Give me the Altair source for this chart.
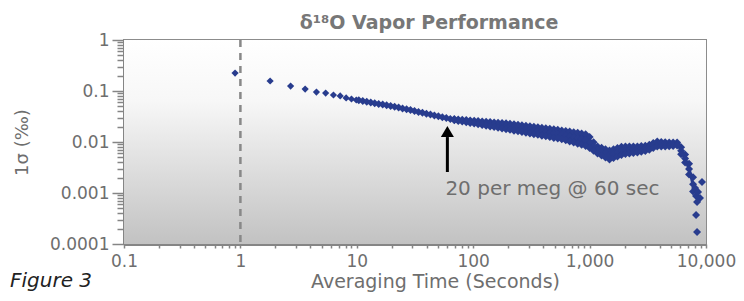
import altair as alt
import pandas as pd

# ---- data ----
tau_early = [0.9, 1.8, 2.7, 3.6, 4.5, 5.4, 6.3, 7.2, 8.1, 9.0, 9.9]
sig_early = [0.225, 0.157, 0.125, 0.109, 0.0955, 0.091, 0.0835, 0.080, 0.073, 0.0697, 0.0666]

tau_thin = [10.4, 11.25, 12.18, 13.17, 14.25, 15.42, 16.68, 18.05, 19.53, 21.13, 22.86, 24.73,
            26.76, 28.94, 31.31, 33.88, 36.65, 39.65, 42.9, 46.42, 50.22, 54.33, 58.77, 63.59]
sig_thin = [0.0657, 0.0637, 0.0617, 0.0598, 0.0576, 0.0559, 0.0541, 0.0524, 0.0506, 0.0490, 0.0475, 0.0456,
            0.0438, 0.0422, 0.0405, 0.0389, 0.0374, 0.0359, 0.0346, 0.0332, 0.0319, 0.0306, 0.0296, 0.0284]

tau_wide = [68.8, 74.43, 80.53, 87.13, 94.27, 102.0, 110.3, 119.4, 129.1, 139.7, 151.2, 163.6,
            177.0, 191.5, 207.2, 224.1, 242.5, 262.4, 283.8, 307.1, 332.2, 359.5, 388.9, 420.8,
            455.2, 492.5, 532.8, 576.5, 623.7, 674.8, 730.0, 789.8, 854.5, 924.5, 1000, 1082,
            1171, 1267, 1370, 1482, 1604, 1735, 1877, 2031, 2197, 2377, 2572, 2782,
            3010, 3257, 3523, 3812, 4124, 4462, 4827, 5222, 5650, 6113, 6613, 7155, 7741]
sig_top = [0.0281, 0.0277, 0.0274, 0.0269, 0.0265, 0.0262, 0.0258, 0.0253, 0.0250, 0.0247, 0.0242, 0.0239,
           0.0236, 0.0233, 0.0227, 0.0222, 0.0217, 0.0213, 0.0208, 0.0203, 0.0199, 0.0194, 0.0190, 0.0186,
           0.0182, 0.0177, 0.0173, 0.0169, 0.0164, 0.0160, 0.0155, 0.0151, 0.0147, 0.0142, 0.0125, 0.00991,
           0.00816, 0.00770, 0.00723, 0.00681, 0.00719, 0.00763, 0.00805, 0.00816, 0.00816, 0.00816, 0.00816, 0.00831,
           0.00846, 0.00885, 0.00952, 0.0102, 0.0100, 0.00986, 0.00978, 0.00978, 0.00978, 0.00787, 0.00569, 0.00375, 0.00204]
sig_mid = [0.0274, 0.0268, 0.0262, 0.0256, 0.0251, 0.0245, 0.0240, 0.0234, 0.0229, 0.0223, 0.0218, 0.0213,
           0.0208, 0.0204, 0.0198, 0.0193, 0.0188, 0.0183, 0.0177, 0.0173, 0.0168, 0.0164, 0.0159, 0.0155,
           0.0151, 0.0146, 0.0142, 0.0138, 0.0133, 0.0128, 0.0123, 0.0118, 0.0114, 0.0109, 0.00978, 0.00816,
           0.00697, 0.00647, 0.00599, 0.00556, 0.00591, 0.00631, 0.00671, 0.00688, 0.00695, 0.00705, 0.00713, 0.00732,
           0.00752, 0.00791, 0.00850, 0.00914, 0.00905, 0.00897, 0.00897, 0.00905, 0.00914, 0.00672, 0.00475, 0.00294, 0.00148]
sig_bot = [0.0268, 0.0259, 0.0251, 0.0245, 0.0237, 0.0230, 0.0222, 0.0215, 0.0209, 0.0202, 0.0196, 0.0190,
           0.0184, 0.0178, 0.0173, 0.0167, 0.0162, 0.0157, 0.0151, 0.0147, 0.0142, 0.0138, 0.0133, 0.0129,
           0.0125, 0.0120, 0.0117, 0.0113, 0.0108, 0.0102, 0.00973, 0.00926, 0.00881, 0.00839, 0.00766, 0.00672,
           0.00595, 0.00544, 0.00497, 0.00454, 0.00486, 0.00522, 0.00559, 0.00579, 0.00592, 0.00608, 0.00622, 0.00645,
           0.00669, 0.00706, 0.00759, 0.00816, 0.00816, 0.00816, 0.00824, 0.00839, 0.00854, 0.00574, 0.00396, 0.00231, 0.00107]

tau_tail = [8054, 8214, 8375, 8543, 8884, 9243, 8214, 8375]
sig_tail = [0.00125, 0.000873, 0.000666, 0.00105, 0.000798, 0.00164, 0.000370, 0.000172]

vline_tau = [1]
arrow_tau = [60]
arrow_from = [0.00258]
arrow_to = [0.0125]
note_text = ["20 per meg @ 60 sec"]
note_sigma = [0.0012]

x_decades = [0.1, 1, 10, 100, 1000, 10000]
y_decades = [0.0001, 0.001, 0.01, 0.1, 1]
x_ticks = [float(f"{m}e{e}") for e in range(-1, 4) for m in range(1, 10)] + [10000.0]
y_ticks = [float(f"{m}e{e}") for e in range(-4, 0) for m in range(1, 10)] + [1.0]

# ---- tables ----
early = pd.DataFrame({"tau": tau_early, "sigma": sig_early})
pts = pd.DataFrame({
    "tau": tau_thin + tau_wide * 3 + tau_tail,
    "sigma": sig_thin + sig_top + sig_mid + sig_bot + sig_tail,
})
band = pd.DataFrame({"tau": tau_wide, "sigma": sig_top, "sigma2": sig_bot})
vline = pd.DataFrame({"tau": vline_tau})
arrow = pd.DataFrame({"tau": arrow_tau, "sigma": arrow_from, "sigma2": arrow_to})
head = pd.DataFrame({"tau": arrow_tau, "sigma": arrow_to})
note = pd.DataFrame({"tau": arrow_tau, "sigma": note_sigma, "text": note_text})
fig = pd.DataFrame({"text": ["Figure 3"]})
bg = pd.DataFrame({"k": [0]})

FONT = "DejaVu Sans"
GRAY = "#6e6e6e"
AX = "#858585"
BLUE = "#283c8e"
W, H = 582, 204

xdec = "[" + ",".join(str(v) for v in x_decades) + "]"
ydec = "[" + ",".join(str(v) for v in y_decades) + "]"

x_scale = alt.Scale(type="log", domain=[0.1, 10000], nice=False)
y_scale = alt.Scale(type="log", domain=[0.0001, 1], nice=False)

x_axis = alt.Axis(
    values=x_ticks, format=",~g",
    labelExpr=f"indexof({xdec}, datum.value) >= 0 ? datum.label : ''",
    labelOverlap=False, labelFlush=False,
    title="Averaging Time (Seconds)", titleX=311, titlePadding=3,
    titleFont=FONT, titleFontSize=19, titleFontWeight="normal", titleColor=GRAY,
    labelFont=FONT, labelFontSize=17, labelColor=GRAY, labelPadding=5,
    tickSize=4, tickColor=AX, tickWidth=1.5,
    domainColor=AX, domainWidth=3, grid=False,
)
y_axis = alt.Axis(
    values=y_ticks, format="~g",
    labelExpr=f"indexof({ydec}, datum.value) >= 0 ? datum.label : ''",
    labelOverlap=False, labelFlush=False,
    title="1σ (‰)", titlePadding=18,
    titleFont=FONT, titleFontSize=18, titleFontWeight="normal", titleColor=GRAY,
    labelFont=FONT, labelFontSize=17, labelColor=GRAY, labelPadding=3,
    tickSize={"condition": {"test": f"indexof({ydec}, datum.value) >= 0", "value": 12}, "value": 7},
    tickColor=AX, tickWidth=1.5,
    domainColor=AX, domainWidth=3, grid=False,
)

X = alt.X("tau:Q", scale=x_scale, axis=x_axis)
Y = alt.Y("sigma:Q", scale=y_scale, axis=y_axis)

gradient = alt.LinearGradient(
    gradient="linear", x1=0, y1=0, x2=0, y2=1,
    stops=[alt.GradientStop(offset=0, color="#ffffff"),
           alt.GradientStop(offset=0.3, color="#f7f7f7"),
           alt.GradientStop(offset=1, color="#c2c2c2")],
)
background = alt.Chart(bg).mark_rect(color=gradient).encode(
    x=alt.value(0), x2=alt.value(W), y=alt.value(0), y2=alt.value(H)
)

dash = alt.Chart(vline).mark_rule(color="#888888", strokeWidth=2.5, strokeDash=[7, 6]).encode(x=X)

band_area = alt.Chart(band).mark_area(color=BLUE, opacity=1).encode(
    x=X, y=Y, y2="sigma2:Q"
)

early_pts = alt.Chart(early).mark_point(
    shape="diamond", filled=True, size=52, color=BLUE, opacity=1
).encode(x=X, y=Y)

points = alt.Chart(pts).mark_point(
    shape="diamond", filled=True, size=64, color=BLUE, opacity=1
).encode(x=X, y=Y)

shaft = alt.Chart(arrow).mark_rule(color="black", strokeWidth=3).encode(
    x=X, y=Y, y2="sigma2:Q"
)
arrowhead = alt.Chart(head).mark_point(
    shape="M-1,0L1,0L0,-1.7Z", filled=True, size=169, color="black", opacity=1
).encode(x=X, y=Y)

note_mark = alt.Chart(note).mark_text(
    align="left", baseline="middle", font=FONT, fontSize=20, color=GRAY, dx=-2
).encode(x=X, y=Y, text="text:N")

fig_mark = alt.Chart(fig).mark_text(
    align="left", baseline="middle", font=FONT, fontSize=20, fontStyle="italic", color="#222222"
).encode(x=alt.value(-114), y=alt.value(241), text="text:N")

chart = alt.layer(background, dash, band_area, early_pts, points, shaft, arrowhead,
                  note_mark, fig_mark).properties(
    width=W, height=H,
    autosize=alt.AutoSizeParams(type="none"),
    padding={"left": 116, "top": 32, "right": 30, "bottom": 49},
    title=alt.TitleParams(
        "δ¹⁸O Vapor Performance", font=FONT, fontSize=19, fontWeight="bold",
        color="#777777", anchor="middle", offset=6, dx=14, dy=8,
    ),
).configure_view(stroke="#8c8c8c", strokeWidth=2)

chart.save("out.html", embed_options={"renderer": "svg", "actions": False})
